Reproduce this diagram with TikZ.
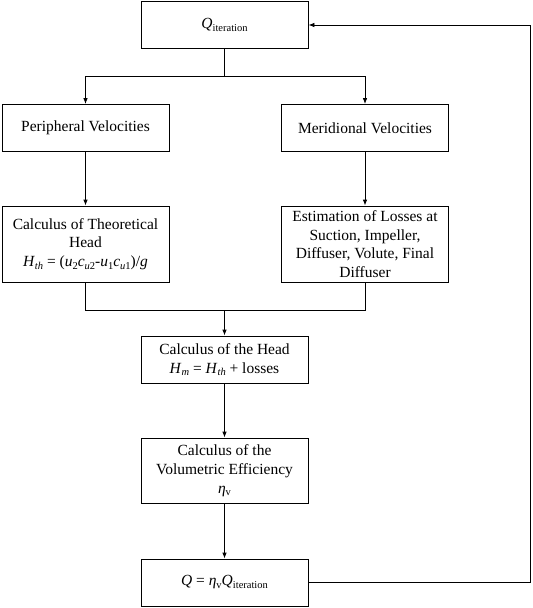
\documentclass[tikz,border=0pt]{standalone}
\usepackage{fontspec}
\setmainfont{Liberation Serif}
\usetikzlibrary{arrows.meta}
\newcommand{\lo}[1]{\raisebox{-0.35ex}{\fontsize{10.5}{10.5}\selectfont #1}}

\begin{document}
\begin{tikzpicture}[x=1pt,y=-1pt,
  box/.style={draw, line width=0.8pt, minimum width=167pt, minimum height=47pt, align=center, inner sep=2pt, font=\fontsize{15.5}{18.7}\selectfont},
  link/.style={line width=0.8pt},
  arr/.style={link, -{Latex[length=6pt,width=4.5pt]}}]
\useasboundingbox (0,0) rectangle (533,608);
\node[box] (qit) at (224.5,25) {\textit{Q}\lo{iteration}};
\node[box] (peri) at (85.5,128) {Peripheral Velocities};
\node[box] (meri) at (365,128) {Meridional Velocities};
\node[box, minimum height=76pt] (theo) at (85.5,244) {Calculus of Theoretical\\Head\\\textit{H}\lo{\textit{th}} = (\textit{u}\lo{2}\textit{c}\lo{\textit{u}2}-\textit{u}\lo{1}\textit{c}\lo{\textit{u}1})/\textit{g}};
\node[box, minimum height=76pt] (est) at (365,244) {Estimation of Losses at\\Suction, Impeller,\\Diffuser, Volute, Final\\Diffuser};
\node[box] (head) at (224.5,359.5) {Calculus of the Head\\\textit{H}\lo{\textit{m}} = \textit{H}\lo{\textit{th}} + losses};
\node[box, minimum height=65pt] (vol) at (224.5,470.5) {Calculus of the\\Volumetric Efficiency\\\textit{η}\lo{v}};
\node[box] (qnew) at (224.5,582.5) {\textit{Q} = \textit{η}\lo{v}\textit{Q}\lo{iteration}};
\coordinate (split) at (224.5,76);
\coordinate (merge) at (224.5,310);
\coordinate (back) at (530.5,582.5);
\draw[link] (qit) -- (split);
\draw[arr] (split) -| (peri);
\draw[arr] (split) -| (meri);
\draw[arr] (peri) -- (theo);
\draw[arr] (meri) -- (est);
\draw[link] (theo) |- (merge);
\draw[link] (est) |- (merge);
\draw[arr] (merge) -- (head);
\draw[arr] (head) -- (vol);
\draw[arr] (vol) -- (qnew);
\draw[arr] (qnew) -- (back) |- (qit);
\end{tikzpicture}
\end{document}
